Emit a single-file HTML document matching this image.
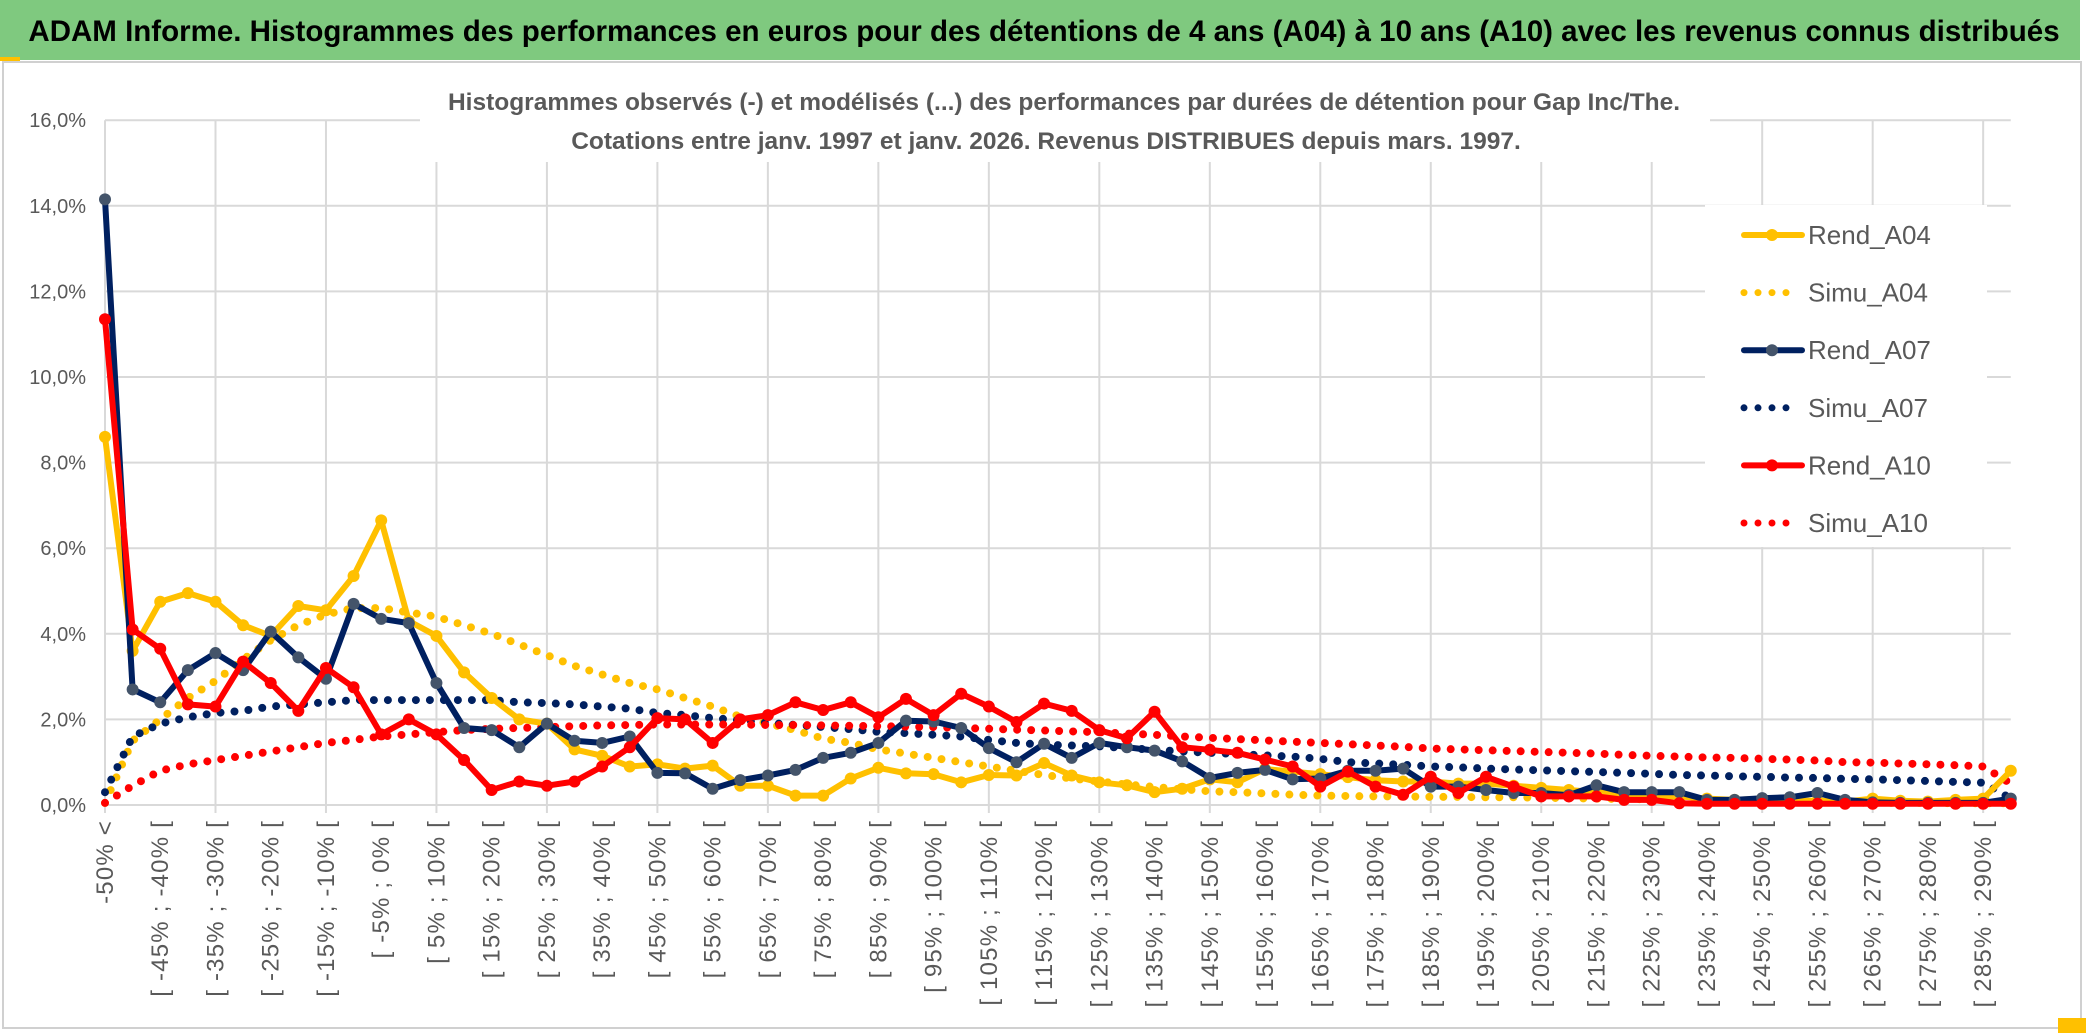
<!DOCTYPE html>
<html><head><meta charset="utf-8"><style>
body{margin:0;background:#fff;}
#wrap{position:relative;width:2086px;height:1033px;overflow:hidden;background:#fff;font-family:"Liberation Sans",sans-serif;}
</style></head><body>
<div id="wrap">
<svg id="svg" width="2086" height="1033" xmlns="http://www.w3.org/2000/svg">
<rect x="0" y="0" width="2086" height="1033" fill="#fff"/>
<rect x="3" y="62" width="2078" height="966" fill="#fff" stroke="#d0d0d0" stroke-width="2"/>
<rect x="0" y="0" width="2080" height="60" fill="#7fc97f"/>
<rect x="0" y="57" width="20" height="4" fill="#ffc000"/>
<text x="1044" y="41" text-anchor="middle" font-size="29.5" font-weight="bold" fill="#000">ADAM Informe. Histogrammes des performances en euros pour des détentions de 4 ans (A04) à 10 ans (A10) avec les revenus connus distribués</text>
<g id="grid"></g>
<rect x="420" y="78" width="1290" height="84" fill="#fff"/>
<text x="1064" y="110" text-anchor="middle" font-size="24.5" font-weight="bold" fill="#595959">Histogrammes observés (-) et modélisés (...) des performances par durées de détention pour Gap Inc/The.</text>
<text x="1046" y="149" text-anchor="middle" font-size="24.5" font-weight="bold" fill="#595959">Cotations entre janv. 1997 et janv. 2026. Revenus DISTRIBUES depuis mars. 1997.</text>
<g id="yaxis"></g><g id="xaxis"></g><g id="series"></g>
<g id="legend"></g>
<rect x="2058" y="1018" width="28" height="15" fill="#ffc000"/>
</svg>
</div>
<script>
const categories=[];
const yTicks=[0,2,4,6,8,10,12,14,16];
const rendA04=[8.6,3.6,4.75,4.95,4.75,4.2,3.95,4.65,4.55,5.35,6.65,4.3,3.95,3.1,2.5,2.0,1.9,1.3,1.15,0.9,0.95,0.85,0.92,0.45,0.45,0.22,0.22,0.62,0.87,0.74,0.72,0.53,0.7,0.69,0.98,0.69,0.53,0.46,0.3,0.38,0.6,0.53,0.84,0.78,0.72,0.65,0.58,0.55,0.55,0.5,0.5,0.45,0.4,0.35,0.3,0.25,0.2,0.2,0.15,0.12,0.15,0.1,0.1,0.08,0.15,0.1,0.08,0.12,0.15,0.8];
const simuA04=[0.05,1.5,2.0,2.5,2.9,3.4,3.85,4.2,4.45,4.6,4.6,4.5,4.4,4.2,4.0,3.75,3.5,3.25,3.05,2.85,2.7,2.5,2.3,2.06,1.9,1.75,1.55,1.45,1.3,1.2,1.1,1.0,0.9,0.8,0.7,0.62,0.55,0.48,0.42,0.37,0.32,0.3,0.27,0.24,0.22,0.21,0.2,0.2,0.19,0.19,0.18,0.18,0.17,0.16,0.15,0.14,0.13,0.12,0.1,0.09,0.08,0.07,0.06,0.06,0.05,0.05,0.05,0.04,0.04,0.04];
const rendA07=[14.15,2.7,2.4,3.15,3.55,3.15,4.05,3.45,2.95,4.7,4.35,4.25,2.85,1.8,1.75,1.35,1.9,1.5,1.45,1.6,0.75,0.74,0.38,0.58,0.69,0.82,1.1,1.22,1.45,1.97,1.95,1.8,1.33,1.0,1.43,1.1,1.45,1.35,1.27,1.02,0.63,0.75,0.82,0.6,0.62,0.8,0.8,0.85,0.43,0.43,0.35,0.28,0.28,0.23,0.46,0.3,0.3,0.3,0.12,0.12,0.16,0.18,0.28,0.12,0.06,0.05,0.05,0.05,0.05,0.15];
const simuA07=[0.3,1.6,1.9,2.05,2.15,2.2,2.3,2.35,2.4,2.45,2.45,2.45,2.45,2.45,2.45,2.4,2.38,2.35,2.3,2.25,2.15,2.1,2.03,1.98,1.92,1.87,1.82,1.77,1.71,1.68,1.64,1.6,1.52,1.45,1.41,1.39,1.37,1.33,1.29,1.25,1.22,1.19,1.16,1.13,1.08,1.0,0.97,0.94,0.9,0.88,0.85,0.83,0.81,0.79,0.77,0.75,0.73,0.7,0.69,0.67,0.66,0.64,0.63,0.61,0.6,0.58,0.56,0.54,0.52,0.15];
const rendA10=[11.35,4.1,3.65,2.35,2.3,3.35,2.85,2.2,3.2,2.75,1.65,2.0,1.65,1.05,0.35,0.55,0.45,0.55,0.9,1.35,2.03,2.0,1.45,2.0,2.1,2.4,2.22,2.4,2.05,2.48,2.1,2.6,2.3,1.94,2.37,2.2,1.75,1.56,2.18,1.35,1.29,1.22,1.06,0.9,0.43,0.78,0.43,0.24,0.66,0.28,0.66,0.43,0.2,0.2,0.2,0.12,0.12,0.04,0.03,0.03,0.03,0.03,0.03,0.03,0.03,0.03,0.03,0.03,0.03,0.03];
const simuA10=[0.05,0.45,0.8,0.95,1.05,1.15,1.25,1.35,1.45,1.52,1.6,1.65,1.7,1.75,1.78,1.8,1.82,1.84,1.86,1.87,1.88,1.88,1.88,1.88,1.87,1.87,1.86,1.85,1.84,1.83,1.82,1.8,1.78,1.76,1.74,1.72,1.7,1.67,1.64,1.6,1.57,1.54,1.51,1.48,1.45,1.42,1.39,1.36,1.32,1.3,1.28,1.26,1.24,1.22,1.2,1.17,1.15,1.13,1.11,1.1,1.08,1.06,1.04,1.0,0.99,0.97,0.95,0.93,0.9,0.5];
categories.push("-50% <");
for(let k=1;k<70;k++){const a=-55+5*k,b=a+5;categories.push("[ "+a+"% ; "+b+"% [");}
const NS="http://www.w3.org/2000/svg";
const X0=105,DX=27.62,Y0=805,PY=42.8;
const xs=i=>X0+i*DX, ys=v=>Y0-v*PY;
function mk(tag,attrs,parent){const e=document.createElementNS(NS,tag);for(const k in attrs)e.setAttribute(k,attrs[k]);parent.appendChild(e);return e;}
const grid=document.getElementById('grid');
yTicks.forEach(t=>{const l=mk('line',{x1:X0,x2:xs(categories.length-1),y1:ys(t),y2:ys(t),stroke:'#d9d9d9','stroke-width':2},grid);

});
for(let i=0;i<categories.length;i+=4){const l=mk('line',{x1:xs(i),x2:xs(i),y1:ys(16),y2:Y0+8,stroke:'#d9d9d9','stroke-width':2},grid);

}
const ya=document.getElementById('yaxis');
yTicks.forEach(t=>{const e=mk('text',{x:86,y:ys(t)+7,'text-anchor':'end','font-size':20,fill:'#595959'},ya);e.textContent=t.toFixed(1).replace('.',',')+'%';

});
const xa=document.getElementById('xaxis');
categories.forEach((c,i)=>{if(i%2)return;const x=xs(i)+8;const e=mk('text',{x:x,y:820,'text-anchor':'end','font-size':24,'letter-spacing':'1.2',fill:'#595959',transform:`rotate(-90 ${x} 820)`},xa);e.textContent=c;

});
const sg=document.getElementById('series');
function pts(arr){return arr.map((v,i)=>xs(i).toFixed(1)+','+ys(v).toFixed(1)).join(' ');}
function dotted(arr,col,name){const p=mk('polyline',{points:pts(arr),fill:'none',stroke:col,'stroke-width':8,'stroke-linecap':'round','stroke-dasharray':'0 14'},sg);

}
function solid(arr,col,mcol,name){const g=mk('g',{},sg);


mk('polyline',{points:pts(arr),fill:'none',stroke:col,'stroke-width':6,'stroke-linejoin':'round'},g);
arr.forEach((v,i)=>{const c=mk('circle',{cx:xs(i),cy:ys(v),r:6,fill:mcol},g);

});}
dotted(simuA04,'#ffc000','simu-a04-line');
dotted(simuA07,'#002060','simu-a07-line');
dotted(simuA10,'#ff0000','simu-a10-line');
solid(rendA04,'#ffc000','#ffc000','rend-a04-line');
solid(rendA07,'#002060','#44546a','rend-a07-line');
solid(rendA10,'#ff0000','#ff0000','rend-a10-line');
const lg=document.getElementById('legend');
mk('rect',{x:1705,y:205,width:282,height:342,fill:'#fff'},lg);
const leg=[['Rend_A04','#ffc000','#ffc000',0],['Simu_A04','#ffc000',null,1],['Rend_A07','#002060','#44546a',0],['Simu_A07','#002060',null,1],['Rend_A10','#ff0000','#ff0000',0],['Simu_A10','#ff0000',null,1]];
leg.forEach((L,i)=>{const y=235+i*57.6;const g=mk('g',{},lg);


if(L[3]){mk('line',{x1:1744,x2:1800,y1:y,y2:y,stroke:L[1],'stroke-width':7,'stroke-linecap':'round','stroke-dasharray':'0 14'},g);}
else{mk('line',{x1:1744,x2:1802,y1:y,y2:y,stroke:L[1],'stroke-width':6,'stroke-linecap':'round'},g);mk('circle',{cx:1772,cy:y,r:6,fill:L[2]},g);}
const t=mk('text',{x:1808,y:y+9,'font-size':26,fill:'#595959'},g);t.textContent=L[0];});
</script>
</body></html>
